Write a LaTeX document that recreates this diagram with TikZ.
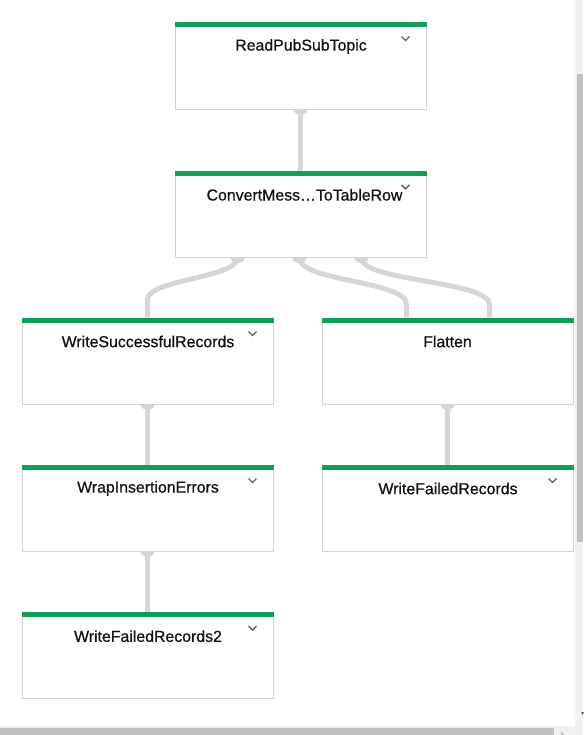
\documentclass[tikz,border=0pt]{standalone}
\usepackage{fontspec}
\setmainfont{Liberation Sans}
\newfontfamily\stepfont[FakeBold=0.6]{Liberation Sans}
\usetikzlibrary{positioning,calc,backgrounds}
\definecolor{stepgreen}{HTML}{0F9D58}
\definecolor{edgegrey}{HTML}{D6D6D6}
\definecolor{framegrey}{HTML}{D3D3D3}
\definecolor{chevgrey}{HTML}{5F6368}
\definecolor{inkblack}{HTML}{111111}
\definecolor{trackgrey}{HTML}{F1F1F1}
\definecolor{thumbgrey}{HTML}{C1C1C1}

\begin{document}
\begin{tikzpicture}[x=0.75pt,y=-0.75pt,
  stepbox/.style={rectangle,draw=framegrey,fill=white,line width=0.75pt,
    minimum width=188.25pt,minimum height=64.5pt,inner sep=0pt},
  title/.style={font=\stepfont\fontsize{11.9}{13}\selectfont,text=inkblack,inner sep=0pt},
  bar/.style={fill=stepgreen},
  chev/.style={draw=chevgrey,line width=1pt},
  link/.style={draw=edgegrey,line width=3.75pt},
  port/.style={fill=edgegrey}]
    \useasboundingbox (0,0) rectangle (583,735);
    % Steps
    \node[stepbox] (read) at (300.5,66) {};
    \node[stepbox,below=46pt of read] (convert) {};
    \node[stepbox] (succ) at (147.5,361) {};
    \node[stepbox] (flat) at (447.5,361) {};
    \node[stepbox,below=45pt of succ] (wrap) {};
    \node[stepbox,below=45pt of flat] (failed) {};
    \node[stepbox,below=45.5pt of wrap] (failedtwo) {};
    % Green bars
    \foreach \s in {read,convert,succ,flat,wrap,failed,failedtwo}
      \fill[bar] (\s.north west) rectangle ($(\s.north east)+(0,5)$);
    % Titles
    \node[title] (readT) at ($(read.north)+(0.5,24)$) {ReadPubSubTopic};
    \node[title] (convertT) at ($(convert.north)+(4,24)$) {ConvertMess…ToTableRow};
    \node[title] (succT) at ($(succ.north)+(0.5,24)$) {WriteSuccessfulRecords};
    \node[title] (flatT) at ($(flat.north)+(0,24)$) {Flatten};
    \node[title] (wrapT) at ($(wrap.north)+(0.5,24)$) {WrapInsertionErrors};
    \node[title] (failedT) at ($(failed.north)+(0.5,24)$) {WriteFailedRecords};
    \node[title] (failedtwoT) at ($(failedtwo.north)+(0.5,24)$) {WriteFailedRecords2};
    % Chevrons
    \foreach \s in {read,convert,succ,wrap,failed,failedtwo}
      \draw[chev] ($(\s.north east)+(-25,14)$) -- ++(4,4) -- ++(4,-4);
    % Connectors
    \begin{scope}[on background layer]
      \draw[link] (read.south) -- (convert.north);
      \draw[link] ($(convert.south)+(-63,0)$) .. controls +(0,20) and +(0,-20) .. ($(succ.north)+(0,-18)$) -- (succ.north);
      \draw[link] ($(convert.south)+(-1,0)$) .. controls +(0,24) and +(0,-24) .. ($(flat.north)+(-41,-13)$) -- ($(flat.north)+(-41,0)$);
      \draw[link] ($(convert.south)+(61,0)$) .. controls +(0,24) and +(0,-24) .. ($(flat.north)+(42,-13)$) -- ($(flat.north)+(42,0)$);
      \draw[link] (succ.south) -- (wrap.north);
      \draw[link] (wrap.south) -- (failedtwo.north);
      \draw[link] (flat.south) -- (failed.north);
      \foreach \p in {read.south,succ.south,flat.south,wrap.south}
        \fill[port] (\p) ellipse [x radius=5.25pt, y radius=4pt];
      \foreach \d in {-63,-1,61}
        \fill[port] ($(convert.south)+(\d,0)$) ellipse [x radius=5.25pt, y radius=4pt];
    \end{scope}
    % Scrollbars
    \fill[trackgrey] (575,0) rectangle (583,735);
    \fill[thumbgrey] (577,74) rectangle (583,542);
    \fill[trackgrey] (0,726) rectangle (583,735);
    \fill[thumbgrey] (0,728) rectangle (554,735);
    \fill[chevgrey] (581,712) -- (584,712) -- (582.5,715) -- cycle;
    \fill[thumbgrey] (561,731) -- (561,735) -- (565,735) -- cycle;
\end{tikzpicture}
\end{document}
